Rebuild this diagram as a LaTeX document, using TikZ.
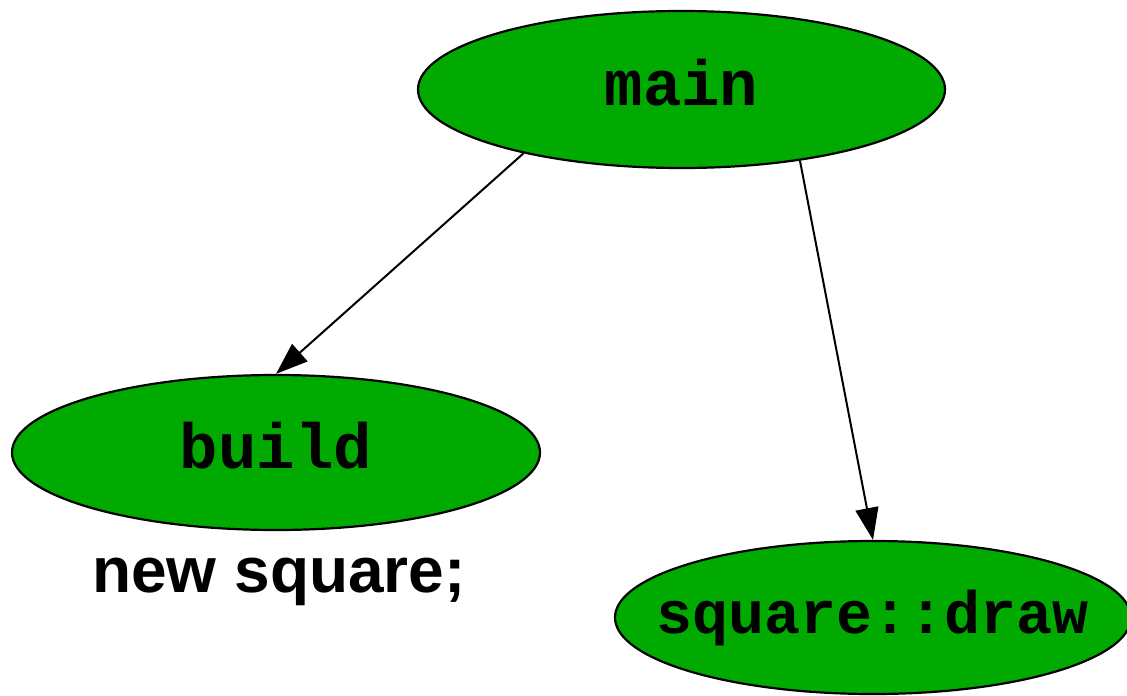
\documentclass[tikz,border=0pt]{standalone}
\usepackage{fontspec}
\setmainfont{Liberation Sans}
\setmonofont{Liberation Mono}
\usetikzlibrary{shapes.geometric,arrows.meta}
\definecolor{nodegreen}{HTML}{00AA00}
\newcommand{\fnlabel}[1]{\raisebox{-16pt}[0pt][0pt]{\makebox[0pt]{#1}}}
\tikzset{
  fn/.style={ellipse, draw=black, fill=nodegreen, line width=2.2pt, inner sep=0pt,
    font=\ttfamily\bfseries\fontsize{64}{64}\selectfont},
  call/.style={line width=2pt, -{Triangle[length=32pt,width=23pt]}},
  note/.style={font=\bfseries\fontsize{64}{64}\selectfont, inner sep=0pt}
}
\begin{document}
\begin{tikzpicture}[x=1pt,y=-1pt]
\useasboundingbox (0,0) rectangle (1127,696);
\node[fn, minimum width=527pt, minimum height=157pt] (main) at (681.5,89.5) {\fnlabel{main}};
\node[fn, minimum width=528pt, minimum height=155pt] (build) at (276,452.5) {\fnlabel{build}};
\node[fn, minimum width=516pt, minimum height=153pt, font=\ttfamily\bfseries\fontsize{60}{60}\selectfont] (sqdraw) at (873,617.5) {\fnlabel{square::draw}};
\node[note, anchor=base] (newsq) at (279,592) {new square;};
\draw[call] (main.202.8) -- (build.north);
\draw[call] (main.-31.4) -- (sqdraw.north);
\end{tikzpicture}
\end{document}
